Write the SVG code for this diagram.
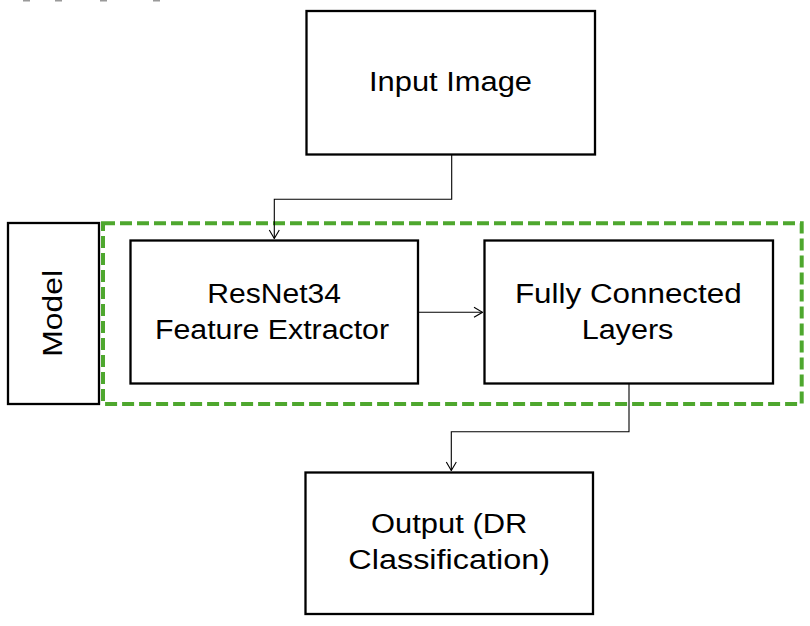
<svg xmlns="http://www.w3.org/2000/svg" width="810" height="626" viewBox="0 0 810 626">
<style>
.box{fill:#fff;stroke:#000;stroke-width:2.3}
.lbl{font-family:"Liberation Sans",Arial,sans-serif;font-size:27px;fill:#000}
.con{fill:none;stroke:#000;stroke-width:1.1}
.grp{fill:none;stroke:#4EA72E;stroke-width:4;stroke-dasharray:12 5}
</style>
<defs>
<marker id="arr" viewBox="0 0 10 12" refX="9.5" refY="6" markerWidth="10" markerHeight="12" markerUnits="userSpaceOnUse" orient="auto">
<path d="M1,1 L9.5,6 L1,11" fill="none" stroke="#000" stroke-width="1.1"/>
</marker>
</defs>
<rect width="810" height="626" fill="#fff"/>
<g id="fragments" fill="#9a9a9a">
<rect x="23" y="0" width="7" height="1.5"/>
<rect x="55" y="0" width="7" height="1.5"/>
<rect x="100" y="0" width="7" height="1.5"/>
<rect x="153" y="0" width="7" height="1.5"/>
</g>
<g id="model-label">
<rect class="box" x="8" y="223" width="91" height="181"/>
<text class="lbl" transform="translate(61.5,313.3) rotate(-90)" text-anchor="middle" textLength="86.7" lengthAdjust="spacingAndGlyphs">Model</text>
</g>
<g id="model-group">
<rect class="grp" x="103" y="223.3" width="698.7" height="180.7"/>
</g>
<g id="input-image">
<rect class="box" x="306.5" y="11" width="288.5" height="143.5"/>
<text class="lbl" x="450.5" y="90.7" text-anchor="middle" textLength="163" lengthAdjust="spacingAndGlyphs">Input Image</text>
</g>
<g id="resnet">
<rect class="box" x="130.5" y="240.5" width="287.5" height="143"/>
<text class="lbl" x="274.2" y="302.7" text-anchor="middle" textLength="133.7" lengthAdjust="spacingAndGlyphs">ResNet34</text>
<text class="lbl" x="272" y="339.3" text-anchor="middle" textLength="234" lengthAdjust="spacingAndGlyphs">Feature Extractor</text>
</g>
<g id="fc">
<rect class="box" x="484.5" y="240.5" width="288.5" height="143"/>
<text class="lbl" x="628.3" y="302.7" text-anchor="middle" textLength="226.7" lengthAdjust="spacingAndGlyphs">Fully Connected</text>
<text class="lbl" x="627.5" y="339.3" text-anchor="middle" textLength="91.7" lengthAdjust="spacingAndGlyphs">Layers</text>
</g>
<g id="output">
<rect class="box" x="305.5" y="472.5" width="287.5" height="141.5"/>
<text class="lbl" x="449.2" y="532.7" text-anchor="middle" textLength="156.3" lengthAdjust="spacingAndGlyphs">Output (DR</text>
<text class="lbl" x="449.2" y="569.3" text-anchor="middle" textLength="201.7" lengthAdjust="spacingAndGlyphs">Classification)</text>
</g>
<g id="connectors">
<path class="con" d="M451.7,155 V199.3 H274.3 V238.5" marker-end="url(#arr)"/>
<path class="con" d="M418,312.3 H482.5" marker-end="url(#arr)"/>
<path class="con" d="M629,384 V431.7 H451.3 V470.5" marker-end="url(#arr)"/>
</g>
</svg>
